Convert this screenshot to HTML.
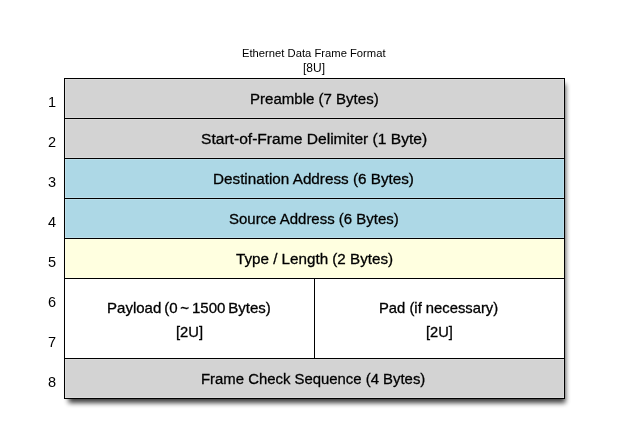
<!DOCTYPE html>
<html><head><meta charset="utf-8">
<style>
html,body{margin:0;padding:0;background:#fff;width:628px;height:438px;overflow:hidden;}
body{position:relative;font-family:"Liberation Sans",sans-serif;color:#000;}
svg{position:absolute;left:0;top:0;}
.t{position:absolute;white-space:nowrap;line-height:1;transform-origin:0 0;}
</style></head><body>
<svg width="628" height="438" viewBox="0 0 628 438">
  <defs>
    <filter id="sh" x="-10%" y="-10%" width="130%" height="130%">
      <feGaussianBlur in="SourceAlpha" stdDeviation="2.8"/>
      <feComponentTransfer><feFuncA type="linear" slope="0.75"/></feComponentTransfer>
    </filter>
  </defs>
  <rect x="68.5" y="84" width="497" height="319" fill="#000" filter="url(#sh)"/>
  <g shape-rendering="crispEdges">
  <rect x="64" y="78" width="501" height="80" fill="#d3d3d3"/>
  <rect x="64" y="158" width="501" height="80" fill="#add8e6"/>
  <rect x="64" y="238" width="501" height="40" fill="#ffffe0"/>
  <rect x="64" y="278" width="501" height="80" fill="#ffffff"/>
  <rect x="64" y="358" width="501" height="41" fill="#d3d3d3"/>
  <g fill="rgba(255,255,255,0.2)">
    <rect x="65" y="79" width="499" height="1"/>
    <rect x="65" y="79" width="1" height="319"/>
    <rect x="563" y="79" width="1" height="319"/>
    <rect x="65" y="397" width="499" height="1"/>
    <rect x="65" y="117" width="499" height="1"/><rect x="65" y="119" width="499" height="1"/>
    <rect x="65" y="157" width="499" height="1"/><rect x="65" y="159" width="499" height="1"/>
    <rect x="65" y="197" width="499" height="1"/><rect x="65" y="199" width="499" height="1"/>
    <rect x="65" y="237" width="499" height="1"/><rect x="65" y="239" width="499" height="1"/>
    <rect x="65" y="277" width="499" height="1"/>
    <rect x="65" y="357" width="499" height="1"/><rect x="65" y="359" width="499" height="1"/>
  </g>
  <g fill="#000">
    <rect x="64" y="78" width="501" height="1"/>
    <rect x="64" y="398" width="501" height="1"/>
    <rect x="64" y="78" width="1" height="321"/>
    <rect x="564" y="78" width="1" height="321"/>
    <rect x="64" y="118" width="501" height="1"/>
    <rect x="64" y="158" width="501" height="1"/>
    <rect x="64" y="198" width="501" height="1"/>
    <rect x="64" y="238" width="501" height="1"/>
    <rect x="64" y="278" width="501" height="1"/>
    <rect x="64" y="358" width="501" height="1"/>
    <rect x="314" y="278" width="1" height="81"/>
  </g>
  </g>
</svg>

<div class="t" id="L0" style="font-size:11.5px;left:242.40px;top:48.00px;transform:scaleX(0.9768);">Ethernet Data Frame Format</div>
<div class="t" id="L1" style="font-size:12px;left:302.70px;top:62.00px;transform:scaleX(0.9984);">[8U]</div>
<div class="t" id="L2" style="font-size:15.5px;left:250.10px;top:91.00px;transform:scaleX(0.9698);-webkit-text-stroke:0.3px #000">Preamble (7 Bytes)</div>
<div class="t" id="L3" style="font-size:15.5px;left:201.10px;top:131.00px;transform:scaleX(1.0063);-webkit-text-stroke:0.3px #000">Start-of-Frame Delimiter (1 Byte)</div>
<div class="t" id="L4" style="font-size:15.5px;left:213.40px;top:171.00px;transform:scaleX(0.9841);-webkit-text-stroke:0.3px #000">Destination Address (6 Bytes)</div>
<div class="t" id="L5" style="font-size:15.5px;left:228.70px;top:211.00px;transform:scaleX(0.9656);-webkit-text-stroke:0.3px #000">Source Address (6 Bytes)</div>
<div class="t" id="L6" style="font-size:15.5px;left:235.70px;top:251.00px;transform:scaleX(0.9803);-webkit-text-stroke:0.3px #000">Type / Length (2 Bytes)</div>
<div class="t" id="L7" style="font-size:14.5px;left:106.70px;top:300.70px;transform:scaleX(1.0366);-webkit-text-stroke:0.3px #000;word-spacing:-1.3px">Payload (0 ~ 1500 Bytes)</div>
<div class="t" id="L8" style="font-size:15px;left:176.00px;top:324.40px;transform:scaleX(0.9836);-webkit-text-stroke:0.3px #000">[2U]</div>
<div class="t" id="L9" style="font-size:14.5px;left:379.00px;top:301.00px;transform:scaleX(1.0198);-webkit-text-stroke:0.3px #000">Pad (if necessary)</div>
<div class="t" id="L10" style="font-size:15px;left:425.50px;top:324.40px;transform:scaleX(0.9763);-webkit-text-stroke:0.3px #000">[2U]</div>
<div class="t" id="L11" style="font-size:15.5px;left:201.40px;top:371.00px;transform:scaleX(0.9607);-webkit-text-stroke:0.3px #000">Frame Check Sequence (4 Bytes)</div>
<div class="t" id="N1" style="font-size:14.5px;left:47.70px;top:94.80px;transform:scaleX(0.9999);">1</div>
<div class="t" id="N2" style="font-size:14.5px;left:47.70px;top:134.80px;transform:scaleX(0.9999);">2</div>
<div class="t" id="N3" style="font-size:14.5px;left:47.70px;top:174.80px;transform:scaleX(0.9999);">3</div>
<div class="t" id="N4" style="font-size:14.5px;left:47.70px;top:214.80px;transform:scaleX(0.9999);">4</div>
<div class="t" id="N5" style="font-size:14.5px;left:47.70px;top:254.80px;transform:scaleX(0.9999);">5</div>
<div class="t" id="N6" style="font-size:14.5px;left:47.70px;top:294.80px;transform:scaleX(0.9999);">6</div>
<div class="t" id="N7" style="font-size:14.5px;left:47.70px;top:334.80px;transform:scaleX(0.9999);">7</div>
<div class="t" id="N8" style="font-size:14.5px;left:47.70px;top:374.80px;transform:scaleX(0.9999);">8</div>
</body></html>
